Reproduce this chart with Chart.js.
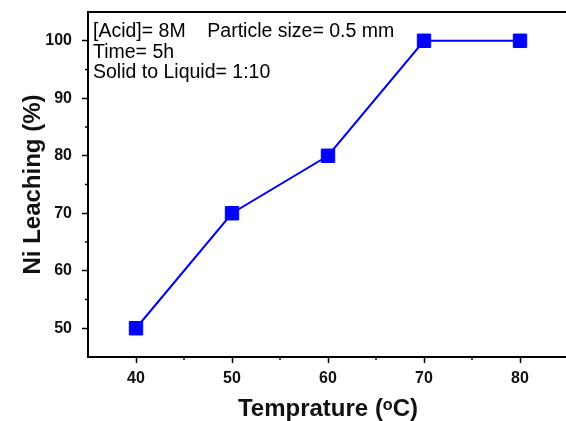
<!DOCTYPE html>
<html>
<head>
<meta charset="utf-8">
<script src="https://cdn.jsdelivr.net/npm/chart.js@4/dist/chart.umd.min.js"></script>
<style>
  html, body { margin: 0; padding: 0; background: #fff; overflow: hidden; }
  #wrap { width: 568px; height: 421px; }
</style>
</head>
<body>
<div id="wrap"><canvas id="myChart" width="568" height="421"></canvas></div>
<script>
// data
var temps = [40, 50, 60, 70, 80];
var leaching = [50, 70, 80, 100, 100];
var xTicks = [40, 50, 60, 70, 80];
var yTicks = [50, 60, 70, 80, 90, 100];
var xMinorTicks = [45, 55, 65, 75, 85];
var yMinorTicks = [55, 65, 75, 85, 95];
var notes = ["[Acid]= 8M    Particle size= 0.5 mm", "Time= 5h", "Solid to Liquid= 1:10"];

var points = [];
for (var i = 0; i < temps.length; i++) {
  points.push({ x: temps[i], y: leaching[i] });
}

var FONT = "'Liberation Sans', Arial, sans-serif";

// box round the plot, minor ticks and the condition text
var framePlugin = {
  id: "frame",
  afterDraw: function(chart) {
    var c = chart.ctx;
    var a = chart.chartArea;
    var xs = chart.scales.x;
    var ys = chart.scales.y;
    c.save();
    c.strokeStyle = "#000";
    c.lineWidth = 2;
    c.strokeRect(a.left, a.top, a.right - a.left, a.bottom - a.top);

    c.lineWidth = 1.5;
    c.beginPath();
    xMinorTicks.forEach(function(v) {
      var px = xs.getPixelForValue(v);
      c.moveTo(px, a.bottom);
      c.lineTo(px, a.bottom + 3);
    });
    yMinorTicks.forEach(function(v) {
      var py = ys.getPixelForValue(v);
      c.moveTo(a.left, py);
      c.lineTo(a.left - 3, py);
    });
    c.stroke();

    c.fillStyle = "#000";
    c.font = "19.5px " + FONT;
    c.textBaseline = "alphabetic";
    for (var k = 0; k < notes.length; k++) {
      c.fillText(notes[k], a.left + 5, a.top + 25 + k * 20.5);
    }
    c.restore();
  }
};

var ctx = document.getElementById("myChart");
var myChart = new Chart(ctx, {
  type: "scatter",
  data: {
    datasets: [
      {
        label: "Ni",
        data: points,
        showLine: true,
        borderColor: "#0000ff",
        backgroundColor: "#0000ff",
        borderWidth: 2,
        pointStyle: "rect",
        pointRadius: 9.5,
        pointHoverRadius: 9.5,
        pointBorderWidth: 1,
      },
    ],
  },
  options: {
    responsive: false,
    animation: false,
    layout: { autoPadding: false, padding: { top: 12, right: 0, left: 0, bottom: 0 } },
    plugins: { legend: { display: false }, tooltip: { enabled: false } },
    scales: {
      x: {
        type: "linear",
        min: 35,
        max: 85,
        afterBuildTicks: function(s) {
          s.ticks = xTicks.map(function(v) { return { value: v }; });
        },
        afterFit: function(s) { s.height = 64; },
        border: { color: "#000", width: 2 },
        grid: { drawOnChartArea: false, tickLength: 6, tickColor: "#000", tickWidth: 1.5 },
        ticks: {
          padding: 6,
          color: "#111",
          font: { family: FONT, size: 16, weight: "bold" },
        },
        title: {
          display: true,
          text: "Temprature (\u1d52C)",
          color: "#111",
          padding: { top: 0, bottom: 0 },
          font: { family: FONT, size: 24, weight: "bold", lineHeight: 1 },
        },
      },
      y: {
        min: 45,
        max: 105,
        afterBuildTicks: function(s) {
          s.ticks = yTicks.map(function(v) { return { value: v }; });
        },
        afterFit: function(s) {
          s.width = 88;
          s.paddingTop = 0;
          s.paddingBottom = 0;
        },
        border: { color: "#000", width: 2 },
        grid: { drawOnChartArea: false, tickLength: 6, tickColor: "#000", tickWidth: 1.5 },
        ticks: {
          padding: 10,
          color: "#111",
          font: { family: FONT, size: 16, weight: "bold" },
        },
        title: {
          display: true,
          text: "Ni Leaching (%)",
          color: "#111",
          padding: { top: 19, bottom: 0 },
          font: { family: FONT, size: 24, weight: "bold" },
        },
      },
    },
  },
  plugins: [framePlugin],
});
</script>
</body>
</html>
